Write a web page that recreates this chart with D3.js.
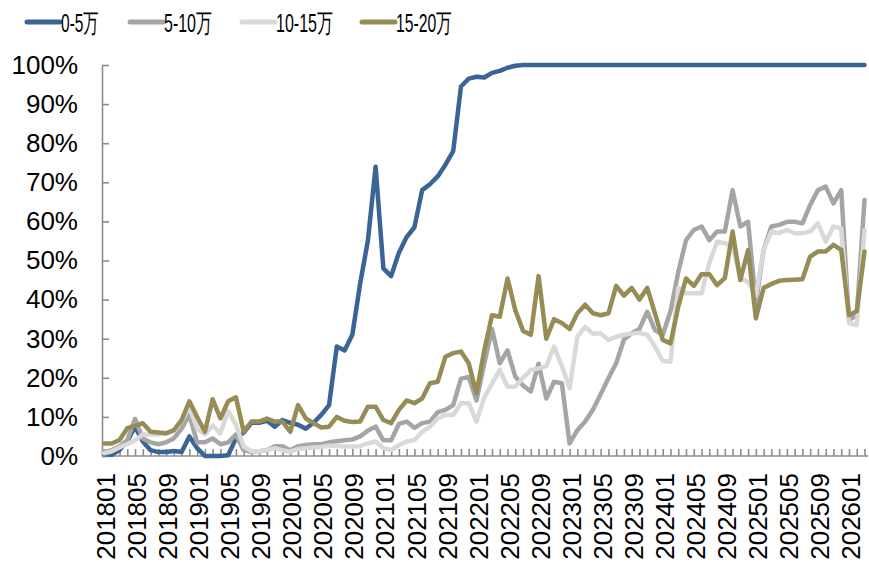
<!DOCTYPE html>
<html>
<head>
<meta charset="utf-8">
<script src="https://cdn.jsdelivr.net/npm/d3@7"></script>
<style>
  body { margin: 0; background: #fff; }
  svg { display: block; }
  text { font-family: "Liberation Sans", Arial, sans-serif; fill: #000; }
</style>
</head>
<body>
<svg id="chart" width="869" height="562"></svg>
<script>
// Monthly categories, 2018-01 .. 2026-03
const months = [
  "201801","201802","201803","201804","201805","201806","201807","201808","201809","201810","201811","201812",
  "201901","201902","201903","201904","201905","201906","201907","201908","201909","201910","201911","201912",
  "202001","202002","202003","202004","202005","202006","202007","202008","202009","202010","202011","202012",
  "202101","202102","202103","202104","202105","202106","202107","202108","202109","202110","202111","202112",
  "202201","202202","202203","202204","202205","202206","202207","202208","202209","202210","202211","202212",
  "202301","202302","202303","202304","202305","202306","202307","202308","202309","202310","202311","202312",
  "202401","202402","202403","202404","202405","202406","202407","202408","202409","202410","202411","202412",
  "202501","202502","202503","202504","202505","202506","202507","202508","202509","202510","202511","202512",
  "202601","202602","202603"
];

const seriesNames = ["0-5万", "5-10万", "10-15万", "15-20万"];

// Share by price band (%)
const share0to5 = [
  0.5, 0.3, 1.5, 3.8, 7.5, 3.7, 1.5, 1, 1, 1.3,
  1, 5, 2, 0, 0, 0, 0.2, 4.5, 6, 8.5,
  8.5, 9, 7.5, 9.2, 8.5, 8, 7, 8.5, 10.5, 13,
  28, 27, 31, 44, 55, 74, 48, 46, 52, 56,
  58.5, 68, 69.5, 71.5, 74.5, 78, 94.5, 96.5, 97, 96.8,
  98, 98.5, 99.3, 99.8, 100, 100, 100, 100, 100, 100,
  100, 100, 100, 100, 100, 100, 100, 100, 100, 100,
  100, 100, 100, 100, 100, 100, 100, 100, 100, 100,
  100, 100, 100, 100, 100, 100, 100, 100, 100, 100,
  100, 100, 100, 100, 100, 100, 100, 100, 100
];
const share5to10 = [
  1, 1.5, 2.5, 4, 9.5, 4.5, 3.5, 3, 3.5, 4.5,
  7, 10.5, 3.5, 3.5, 4.5, 3, 3.5, 5.5, 1.5, 1,
  1.2, 1.5, 2.5, 2.5, 1.5, 2.5, 2.8, 3, 3, 3.5,
  3.8, 4, 4.2, 5, 6.5, 7.5, 4, 4, 8.2, 8.8,
  7.2, 8.4, 8.8, 11.2, 11.8, 13, 19.8, 20.2, 14.2, 23.5,
  32.5, 23.7, 27, 20.3, 18, 16.5, 23.6, 14.7, 19, 18.6,
  3.2, 6.6, 8.8, 11.8, 15.8, 19.9, 23.7, 29.8, 31.4, 32.5,
  36.9, 32.2, 31, 37, 47, 55.2, 57.8, 58.7, 55.2, 57.4,
  57.4, 68, 58.7, 59.9, 39, 52.7, 58.7, 59.1, 59.9, 59.9,
  59.5, 64.2, 68, 68.9, 64.6, 68, 34.8, 36, 65.5
];
const share10to15 = [
  0.7, 1.2, 2.2, 3, 4, 5.5, 5.5, 5.5, 5.8, 6.5,
  9, 12.5, 7, 5.5, 7.8, 5.8, 11.5, 8, 2.4, 1.2,
  1.2, 1.5, 2, 1.5, 1.1, 1.8, 2, 2.2, 2.3, 2.6,
  2.6, 2.4, 2.4, 2.5, 3.2, 3.7, 2, 1.5, 2.8, 3.7,
  4.1, 6.2, 7.5, 9.6, 10.5, 10.5, 13.5, 13.5, 8.8, 15,
  18.5, 22, 17.7, 17.8, 20, 22, 22.4, 23, 28, 23,
  17.3, 30.5, 33, 31.3, 31.3, 29.7, 30.5, 31, 31.3, 31.5,
  31, 28, 24.3, 24.1, 43, 41.6, 41.6, 41.6, 49.3, 54.8,
  54.4, 53.5, 45.5, 44.5, 41, 52.7, 57.4, 57, 57.8, 57,
  57, 57.4, 59.5, 54.8, 58.7, 58.2, 34, 33.5, 57.8
];
const share15to20 = [
  3.2, 3.2, 4.1, 7.1, 7.7, 8.4, 6.2, 6, 5.8, 6.6,
  9.2, 14, 10, 6.2, 14.5, 9.6, 14, 15, 6.2, 8.8,
  8.8, 9.6, 8.8, 8.8, 6.2, 13, 9.6, 8.4, 7.3, 7.5,
  10, 9, 8.7, 8.8, 12.6, 12.6, 9.2, 8.4, 11.8, 14.2,
  13.5, 14.7, 18.6, 19, 25.4, 26.3, 26.7, 23.7, 16, 27,
  36, 35.6, 45.4, 37.3, 32, 31, 46, 30, 35, 34,
  32.5, 36.5, 38.7, 36.5, 36, 36.5, 43.5, 41, 43, 40,
  43, 36.5, 29.7, 28.8, 38.2, 45.4, 43.5, 46.5, 46.5, 43.7,
  45.5, 57.4, 45, 52.7, 35.2, 43, 44, 44.8, 45, 45.1,
  45.2, 51, 52.3, 52.3, 54, 52.7, 36, 37, 52.3
];

const yTicks = [0, 10, 20, 30, 40, 50, 60, 70, 80, 90, 100];
const xLabelMonths = months.filter((m, i) => i % 4 === 0);

const seriesValues = [share0to5, share5to10, share10to15, share15to20];
const seriesColors = ["#3A6396", "#A5A5A5", "#D9D9D9", "#978C55"];

const svg = d3.select("#chart");
const axisColor = "#8C8C8C";

const x = d3.scalePoint().domain(months).range([104, 864.5]);
const y = d3.scaleLinear().domain([0, 100]).range([456, 65]);

// Y axis: ticks point inward, labels on the left
const yAxisG = svg.append("g")
  .attr("transform", "translate(102,0)")
  .call(d3.axisLeft(y).tickValues(yTicks).tickSize(-7).tickSizeOuter(0).tickPadding(24)
    .tickFormat(d => d + "%"));
yAxisG.select(".domain").attr("stroke", axisColor).attr("stroke-width", 1.6);
yAxisG.selectAll(".tick line").attr("stroke", axisColor).attr("stroke-width", 1.6);
yAxisG.selectAll(".tick text")
  .attr("font-size", 26).attr("fill", "#000")
  .style("font-family", '"Liberation Sans", Arial, sans-serif');

// X axis: one tick per month, label every fourth month, rotated
const xAxisG = svg.append("g")
  .attr("transform", "translate(0,456)")
  .call(d3.axisBottom(x).tickValues(months).tickSize(-7).tickSizeOuter(0)
    .tickFormat(m => xLabelMonths.includes(m) ? m : ""));
xAxisG.select(".domain").attr("d", "M102,0H868").attr("stroke", axisColor).attr("stroke-width", 1.6);
xAxisG.selectAll(".tick line").attr("stroke", axisColor).attr("stroke-width", 1.6);
xAxisG.selectAll(".tick text")
  .attr("font-size", 26).attr("fill", "#000")
  .style("font-family", '"Liberation Sans", Arial, sans-serif')
  .attr("transform", "rotate(-90)")
  .attr("text-anchor", "end")
  .attr("x", -17)
  .attr("y", 1.5)
  .attr("dy", "0.35em");

// Series lines
const line = d3.line()
  .x((d, i) => x(months[i]))
  .y(d => y(d));

seriesValues.forEach((vals, k) => {
  svg.append("path")
    .datum(vals)
    .attr("fill", "none")
    .attr("stroke", seriesColors[k])
    .attr("stroke-width", 4.5)
    .attr("stroke-linejoin", "round")
    .attr("stroke-linecap", "round")
    .attr("d", line);
});

// Legend
const legendX = [27, 130, 242, 362];
const legendTextW = [38, 48, 57, 56];
const legend = svg.append("g");
seriesNames.forEach((name, k) => {
  legend.append("line")
    .attr("x1", legendX[k]).attr("x2", legendX[k] + 33)
    .attr("y1", 22).attr("y2", 22)
    .attr("stroke", seriesColors[k])
    .attr("stroke-width", 5)
    .attr("stroke-linecap", "round");
  legend.append("text")
    .attr("x", legendX[k] + 34)
    .attr("y", 32)
    .attr("font-size", 26)
    .attr("textLength", legendTextW[k])
    .attr("lengthAdjust", "spacingAndGlyphs")
    .text(name);
});
</script>
</body>
</html>
